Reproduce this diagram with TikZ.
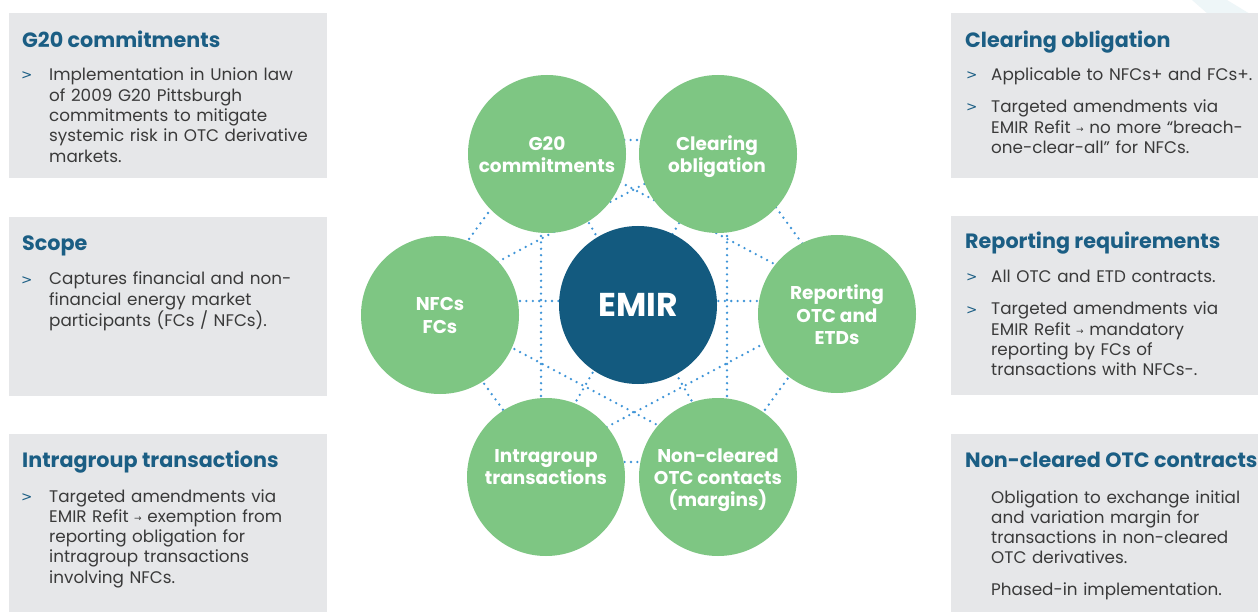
\documentclass[tikz,border=0pt]{standalone}
\usepackage{fontspec}
\setmainfont{Poppins}
\newfontfamily\symfont{DejaVu Sans}
\newcommand{\smallarrow}{{\symfont\fontsize{9pt}{9pt}\selectfont\raisebox{1pt}{→}}}

\definecolor{panelgray}{HTML}{E6E7E9}
\definecolor{headblue}{HTML}{1B5E84}
\definecolor{bodygray}{HTML}{3A3A3A}
\definecolor{bubblegreen}{HTML}{7EC683}
\definecolor{hubblue}{HTML}{135A7F}
\definecolor{linkblue}{HTML}{3F95D8}
\definecolor{cornertint}{HTML}{EEF6F8}

\tikzset{
  panel/.style={fill=panelgray, draw=none, anchor=north west, inner sep=0pt, outer sep=0pt},
  heading/.style={anchor=base west, inner sep=0pt, text=headblue,
    font=\bfseries\fontsize{20.7pt}{23pt}\selectfont},
  bodytext/.style={anchor=base west, inner sep=0pt, text=bodygray, text width=#1,
    align=left, font=\fontsize{16.8pt}{20.3pt}\selectfont},
  chevron/.style={anchor=base west, inner sep=0pt, text=headblue,
    font=\symfont\fontsize{13.5pt}{14pt}\selectfont},
  bubble/.style={circle, fill=bubblegreen, minimum size=158pt, inner sep=0pt},
  % anchored on the baseline of the caption's last line
  bubbletext/.style={anchor=base, inner sep=0pt, text=white, align=center,
    font=\bfseries\fontsize{18.5pt}{22pt}\selectfont},
  hub/.style={circle, fill=hubblue, minimum size=158pt, inner sep=0pt,
    text=white, font=\bfseries\fontsize{33pt}{35pt}\selectfont},
  link/.style={draw=linkblue, line width=2.6pt, line cap=round,
    dash pattern=on 0pt off 6.4pt},
}

\begin{document}
\begin{tikzpicture}[x=1pt, y=-1pt]
  \useasboundingbox (0,0) rectangle (1258,612);
  \fill[white] (0,0) rectangle (1258,612);

  % faint corner accent
  \fill[cornertint] (1192,0) -- (1227,0) -- (1250,14) -- (1208,14) -- cycle;

  % ---------- left panels ----------
  \node[panel, minimum width=318pt, minimum height=165pt] (pl1) at (9,13) {};
  \node[panel, minimum width=318pt, minimum height=179pt] (pl2) at (9,217) {};
  \node[panel, minimum width=318pt, minimum height=178pt] (pl3) at (9,434) {};

  % ---------- right panels ----------
  \node[panel, minimum width=307pt, minimum height=165pt] (pr1) at (951,13) {};
  \node[panel, minimum width=307pt, minimum height=179pt] (pr2) at (951,216) {};
  \node[panel, minimum width=307pt, minimum height=178pt] (pr3) at (951,434) {};

  % G20 commitments
  \node[heading] (t1) at (22,48) {G20 commitments};
  \node[chevron] (c1) at (21,80) {>};
  \node[bodytext=270pt] (x1) at (49,81) {Implementation in Union law\\of 2009 G20 Pittsburgh\\commitments to mitigate\\systemic risk in OTC derivative\\markets.};

  % Scope
  \node[heading] (t2) at (22,251) {Scope};
  \node[chevron] (c2) at (21,284) {>};
  \node[bodytext=270pt] (x2) at (49,285) {Captures financial and non-\\financial energy market\\participants (FCs / NFCs).};

  % Intragroup transactions
  \node[heading] (t3) at (22,467) {Intragroup transactions};
  \node[chevron] (c3) at (21,501) {>};
  \node[bodytext=270pt] (x3) at (49,502) {Targeted amendments via\\EMIR Refit \smallarrow{} exemption from\\reporting obligation for\\intragroup transactions\\involving NFCs.};

  % Clearing obligation
  \node[heading] (t4) at (965,48) {Clearing obligation};
  \node[chevron] (c4a) at (966,80) {>};
  \node[bodytext=265pt] (x4a) at (991,81) {Applicable to NFCs+ and FCs+.};
  \node[chevron] (c4b) at (966,112) {>};
  \node[bodytext=265pt] (x4b) at (991,113) {Targeted amendments via\\EMIR Refit \smallarrow{} no more “breach-\\one-clear-all” for NFCs.};

  % Reporting requirements
  \node[heading] (t5) at (965,249) {Reporting requirements};
  \node[chevron] (c5a) at (966,282) {>};
  \node[bodytext=265pt] (x5a) at (991,283) {All OTC and ETD contracts.};
  \node[chevron] (c5b) at (966,314) {>};
  \node[bodytext=265pt] (x5b) at (991,315) {Targeted amendments via\\EMIR Refit \smallarrow{} mandatory\\reporting by FCs of\\transactions with NFCs-.};

  % Non-cleared OTC contracts
  \node[heading] (t6) at (965,467) {Non-cleared OTC contracts};
  \node[bodytext=265pt] (x6a) at (991,503) {Obligation to exchange initial\\and variation margin for\\transactions in non-cleared\\OTC derivatives.};
  \node[bodytext=265pt] (x6b) at (991,595) {Phased-in implementation.};

  % ---------- dotted hexagonal web ----------
  \coordinate (hL)  at (424,301);
  \coordinate (hTL) at (541,140);
  \coordinate (hTR) at (727,140);
  \coordinate (hR)  at (844,301);
  \coordinate (hBR) at (727,462);
  \coordinate (hBL) at (541,462);
  \foreach \a/\b in {hL/hTL, hL/hTR, hL/hR, hL/hBR, hL/hBL,
                     hTL/hTR, hTL/hR, hTL/hBR, hTL/hBL,
                     hTR/hR, hTR/hBR, hTR/hBL,
                     hR/hBR, hR/hBL,
                     hBR/hBL}
    \draw[link] (\a) -- (\b);

  % ---------- bubbles ----------
  \node[bubble] (g20)   at (547,154) {};
  \node[bubble] (clr)   at (718,154) {};
  \node[bubble] (nfc)   at (440,315) {};
  \node[bubble] (rep)   at (837,314) {};
  \node[bubble] (intra) at (546,477) {};
  \node[bubble] (noncl) at (718,477) {};
  \node[hub]    (emir)  at (638,305) {EMIR};

  % bubble captions
  \node[bubbletext] (g20t)   at (547,173) {G20\\commitments};
  \node[bubbletext] (clrt)   at (717,173) {Clearing\\obligation};
  \node[bubbletext] (nfct)   at (440,333) {NFCs\\FCs};
  \node[bubbletext] (rept)   at (837,344) {Reporting\\OTC and\\ETDs};
  \node[bubbletext] (intrat) at (546,484) {Intragroup\\transactions};
  \node[bubbletext] (nonclt) at (718,506) {Non-cleared\\OTC contacts\\(margins)};
\end{tikzpicture}
\end{document}
